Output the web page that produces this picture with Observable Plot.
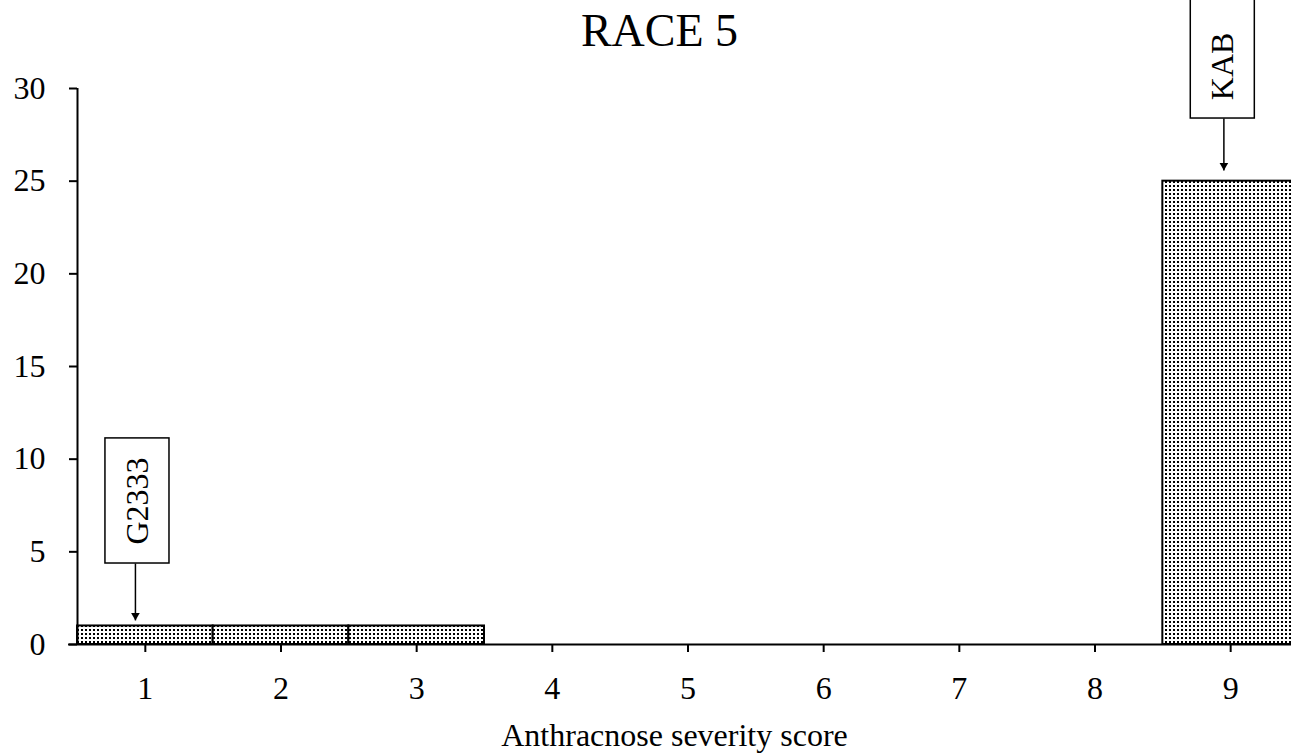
<!DOCTYPE html>
<html>
<head>
<meta charset="utf-8">
<script src="https://cdn.jsdelivr.net/npm/d3@7"></script>
<script src="https://cdn.jsdelivr.net/npm/@observablehq/plot@0.6"></script>
<style>
  html, body { margin: 0; padding: 0; background: white; overflow: hidden; }
  #chart svg { overflow: hidden; }
</style>
</head>
<body>
<div id="chart"></div>
<script>
// ---- data ----
const scores = [1, 2, 3, 4, 5, 6, 7, 8, 9];
const counts = [1, 1, 1, 0, 0, 0, 0, 0, 25];
const yTicks = [0, 5, 10, 15, 20, 25, 30];
const titleText = "RACE 5";
const xLabel = "Anthracnose severity score";

// annotation callouts (data coordinates)
const annLabels = ["G2333", "KAB"];
const annX = [0.942, 8.942];
const annArrowX = [0.927, 8.95];
const annBoxLow = [4.37, 28.38];
const annBoxHigh = [11.12, 35.5];
const annTextY = [7.74, 31.19];
const annArrowTip = [1.3, 25.58];

const bars = scores.map((s, i) => ({score: s, count: counts[i]})).filter(d => d.count > 0);
const anns = annLabels.map((l, i) => ({
  label: l, x: annX[i], ax: annArrowX[i], low: annBoxLow[i], high: annBoxHigh[i],
  ty: annTextY[i], tip: annArrowTip[i]
}));

const FONT = "Liberation Serif, Times New Roman, serif";
const halfW = 0.236;

const plot = Plot.plot({
  width: 1291,
  height: 753,
  marginLeft: 77,
  marginRight: 0,
  marginTop: 88,
  marginBottom: 109,
  style: {fontFamily: FONT, fontSize: "32px", color: "black", background: "white"},
  x: {domain: [0.5, 9.5], range: [77, 1298]},
  y: {domain: [0, 30], range: [644, 88]},
  marks: [
    Plot.rect(bars, {
      x1: d => d.score - 0.5, x2: d => d.score + 0.5, y1: 0, y2: "count",
      fill: "url(#dots)", stroke: "black", strokeWidth: 2
    }),
    // axes
    Plot.axisY({ticks: yTicks, tickSize: 8, tickPadding: 24, label: null, fontSize: 32, strokeWidth: 2}),
    Plot.axisX({ticks: scores, tickSize: 8, tickPadding: 24, label: null, fontSize: 32, strokeWidth: 2, tickFormat: d => String(d)}),
    Plot.ruleX([0.5], {y1: 0, y2: 30, stroke: "black", strokeWidth: 2}),
    Plot.ruleY([0], {x1: 0.434, x2: 9.5, stroke: "black", strokeWidth: 2, clip: false}),
    // callouts
    Plot.rect(anns, {x1: d => d.x - halfW, x2: d => d.x + halfW, y1: "low", y2: "high",
      fill: "white", stroke: "black", strokeWidth: 1.5}),
    Plot.text(anns, {x: "x", y: "ty", text: "label", rotate: -90, fontSize: 32, fill: "black"}),
    Plot.link(anns, {x1: "ax", x2: "ax", y1: "low", y2: "tip", stroke: "black", strokeWidth: 1.5}),
    Plot.dot(anns, {x: "ax", y: "tip", symbol: "triangle", rotate: 180, r: 3.2, fill: "black", stroke: null, dy: -5}),
    // title and x label
    Plot.text([titleText], {frameAnchor: "top", dx: -25, dy: -43, lineAnchor: "bottom", fontSize: 46, fill: "black"}),
    Plot.text([xLabel], {frameAnchor: "bottom", dx: -10, dy: 101, lineAnchor: "bottom", fontSize: 32, fill: "black"})
  ]
});

// dotted pattern fill
const ns = "http://www.w3.org/2000/svg";
const defs = document.createElementNS(ns, "defs");
const pat = document.createElementNS(ns, "pattern");
pat.setAttribute("id", "dots");
pat.setAttribute("width", 4);
pat.setAttribute("height", 4);
pat.setAttribute("patternUnits", "userSpaceOnUse");
const bg = document.createElementNS(ns, "rect");
bg.setAttribute("width", 4); bg.setAttribute("height", 4); bg.setAttribute("fill", "white");
const dot = document.createElementNS(ns, "rect");
dot.setAttribute("x", 1); dot.setAttribute("y", 1);
dot.setAttribute("width", 2); dot.setAttribute("height", 2); dot.setAttribute("fill", "black");
pat.appendChild(bg); pat.appendChild(dot);
defs.appendChild(pat);
plot.insertBefore(defs, plot.firstChild);
plot.style.overflow = "hidden";

document.getElementById("chart").appendChild(plot);
</script>
</body>
</html>
